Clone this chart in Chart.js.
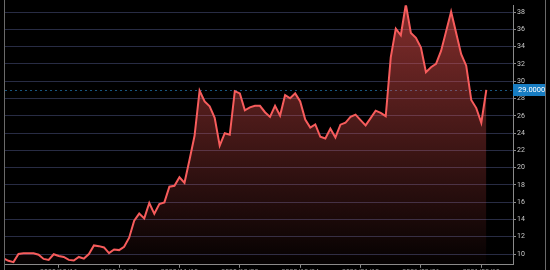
<!DOCTYPE html>
<html>
<head>
<meta charset="utf-8">
<script src="https://cdn.jsdelivr.net/npm/chart.js@4"></script>
<style>
  html, body { margin: 0; padding: 0; background: #000; }
  #wrap { width: 540px; height: 270px; border-left: 1px solid #6a6a6a; border-right: 1px solid #6a6a6a; margin-left: 4px; }
  canvas { display: block; }
</style>
</head>
<body>
<div id="wrap"><canvas id="myChart" width="540" height="270"></canvas></div>
<script>
// 收盘价（按交易日）
var closes = [
  9.49, 9.21, 9.06, 10.0, 10.08, 10.08, 10.08, 9.92, 9.43, 9.32,
  9.97, 9.77, 9.66, 9.32, 9.24, 9.66, 9.47, 10.0, 10.99, 10.91,
  10.76, 10.11, 10.53, 10.45, 10.83, 11.89, 13.85, 14.68, 14.12, 15.9,
  14.65, 15.78, 15.97, 17.79, 17.9, 18.88, 18.24, 20.92, 23.68, 28.9,
  27.65, 27.09, 25.76, 22.55, 23.98, 23.8, 28.85, 28.59, 26.63, 26.97,
  27.15, 27.15, 26.41, 25.87, 27.15, 26.02, 28.4, 28.03, 28.59, 27.65,
  25.57, 24.63, 25.0, 23.57, 23.38, 24.51, 23.49, 24.97, 25.19, 25.87,
  26.13, 25.5, 24.89, 25.73, 26.59, 26.33, 25.95, 32.76, 36.08, 35.32,
  38.9, 35.59, 35.02, 33.89, 31.05, 31.62, 32.0, 33.5, 35.77, 38.04,
  35.59, 33.13, 31.8, 27.83, 26.89, 25.19, 29.0
];

// x轴标签所在的位置和文字
var tickIndex = [11, 23, 35, 47, 59, 71, 83, 95];
var tickLabels = ['2020/10/16', '2020/11/02', '2020/11/19', '2020/12/08', '2020/12/24', '2021/01/12', '2021/02/01', '2021/02/19'];

var lastPrice = closes[closes.length - 1];

// 最新价虚线 + 右侧标签
var priceLine = {
  id: 'priceLine',
  beforeDatasetsDraw: function(chart) {
    var ctx = chart.ctx, area = chart.chartArea;
    var y = Math.round(chart.scales.y.getPixelForValue(lastPrice)) + 0.5;
    ctx.save();
    ctx.strokeStyle = 'rgba(28,100,150,0.85)';
    ctx.lineWidth = 1;
    ctx.setLineDash([2, 3]);
    ctx.beginPath();
    ctx.moveTo(area.left, y);
    ctx.lineTo(area.right, y);
    ctx.stroke();
    ctx.restore();
  },
  afterDraw: function(chart) {
    var ctx = chart.ctx, area = chart.chartArea;
    var y = Math.round(chart.scales.y.getPixelForValue(lastPrice));
    ctx.save();
    ctx.fillStyle = '#187dc2';
    ctx.fillRect(area.right, y - 6, chart.width - area.right, 12);
    ctx.fillStyle = '#ffffff';
    ctx.font = '7.5px Roboto';
    ctx.textBaseline = 'middle';
    ctx.fillText(lastPrice.toFixed(4), area.right + 5, y + 0.5);
    ctx.restore();
  }
};

var ctx = document.getElementById('myChart').getContext('2d');
var myLineChart = new Chart(ctx, {
  type: 'line',
  data: {
    datasets: [{
      data: closes.map(function(v, i) { return { x: i, y: v }; }),
      borderColor: '#f75c5c',
      borderWidth: 2,
      pointRadius: 0,
      tension: 0,
      clip: 0,
      fill: 'start',
      backgroundColor: function(context) {
        var area = context.chart.chartArea;
        if (!area) return 'rgba(239,83,80,0.3)';
        var g = context.chart.ctx.createLinearGradient(0, area.top, 0, area.bottom);
        g.addColorStop(0, 'rgba(239,83,80,0.55)');
        g.addColorStop(1, 'rgba(239,83,80,0.02)');
        return g;
      }
    }]
  },
  options: {
    responsive: false,
    animation: false,
    devicePixelRatio: 1,
    layout: { padding: 0 },
    plugins: { legend: { display: false }, tooltip: { enabled: false } },
    scales: {
      x: {
        type: 'linear',
        min: 0.32,
        max: 101.3,
        afterFit: function(scale) { scale.height = 5; },
        afterBuildTicks: function(scale) {
          scale.ticks = tickIndex.map(function(v) { return { value: v }; });
        },
        grid: { display: true, drawOnChartArea: false, drawTicks: true, tickLength: 3, tickColor: '#8a8a8a' },
        border: { color: '#8a8a8a' },
        ticks: {
          color: '#c8c8c8',
          font: { family: 'Roboto', size: 7 },
          padding: 0,
          maxRotation: 0,
          autoSkip: false,
          callback: function(value, index) { return tickLabels[index]; }
        }
      },
      y: {
        position: 'right',
        min: 8.75,
        max: 38.8,
        afterFit: function(scale) { scale.width = 32; },
        grid: { color: '#282c44', tickColor: '#8a8a8a', tickLength: 3 },
        border: { color: '#8a8a8a' },
        ticks: {
          stepSize: 2,
          includeBounds: false,
          color: '#c8c8c8',
          font: { family: 'Roboto', size: 7 },
          padding: 1
        }
      }
    }
  },
  plugins: [priceLine]
});
</script>
</body>
</html>
